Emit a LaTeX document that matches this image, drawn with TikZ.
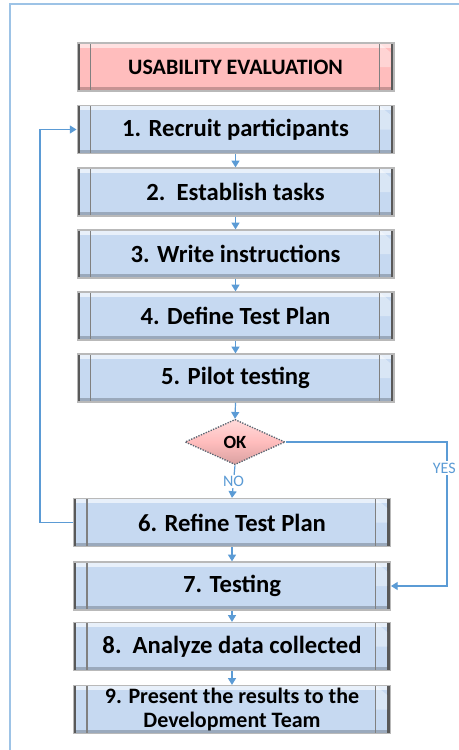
\documentclass[tikz,border=0pt]{standalone}
\usepackage{xcolor}
\usepackage{fontspec}
\setmainfont{Carlito}
\usetikzlibrary{arrows.meta, positioning, shapes.geometric}
\definecolor{flowblue}{HTML}{5B9BD5}
\definecolor{framblue}{HTML}{9DC3E6}
\definecolor{stepfill}{HTML}{C6D9F1}
\definecolor{steplight}{HTML}{E4EEFA}
\definecolor{titlefill}{HTML}{FFBDBD}
\definecolor{titlelight}{HTML}{FFDADA}
\definecolor{edgegray}{HTML}{595959}

\begin{document}
\begin{tikzpicture}[
  x=0.75pt, y=-0.75pt,
  bevel/.style 2 args={draw=gray!55, line width=1pt, minimum width=237.5pt,
    minimum height=36pt, inner sep=0pt, align=center, font=\bfseries,
    fill=#1, path picture={
      \fill[#2!70, opacity=0.9] (path picture bounding box.north west)
        rectangle ([yshift=-3.5pt]path picture bounding box.north east);
      \fill[black, opacity=0.22] (path picture bounding box.south west)
        rectangle ([yshift=3pt]path picture bounding box.south east);
      \fill[edgegray] (path picture bounding box.south west)
        rectangle ([xshift=2pt]path picture bounding box.north west);
      \fill[edgegray] (path picture bounding box.south east)
        rectangle ([xshift=-2.5pt]path picture bounding box.north east);
      \fill[white, opacity=0.35] ([xshift=-11pt]path picture bounding box.north east)
        -- ([xshift=-2.5pt,yshift=-7pt]path picture bounding box.north east)
        -- ([xshift=-2.5pt]path picture bounding box.east)
        -- ([xshift=-11pt]path picture bounding box.east) -- cycle;
      \draw[gray, line width=0.8pt] ([xshift=10pt]path picture bounding box.north west)
        -- ([xshift=10pt]path picture bounding box.south west);
      \draw[gray, line width=0.8pt] ([xshift=-11pt]path picture bounding box.north east)
        -- ([xshift=-11pt]path picture bounding box.south east);
    }},
  stepbox/.style={bevel={stepfill}{steplight}, font=\fontsize{18.5}{19}\selectfont\bfseries},
  titlebox/.style={bevel={titlefill}{titlelight}, font=\fontsize{16.5}{17}\selectfont\bfseries},
  decision/.style={diamond, draw=edgegray!80!flowblue, line width=1pt, densely dotted,
    top color=titlelight, bottom color=titlefill!85!black, middle color=titlefill,
    minimum width=75pt, minimum height=34pt, inner sep=0pt, aspect=2.2,
    font=\fontsize{14}{16}\selectfont\bfseries},
  arrow/.style={-{Triangle[length=5pt, width=6pt]}, draw=flowblue, line width=0.9pt},
  flowlabel/.style={font=\fontsize{12}{14}\selectfont, text=flowblue, fill=white,
    inner sep=1pt}
]
\useasboundingbox (0,0) rectangle (459,750);
% outer frame
\draw[framblue, line width=1.2pt] (10,750) -- (10,4) -- (470,4);

\node[titlebox] (title) at (235.5,67) {USABILITY EVALUATION};
\node[stepbox] (s1) at (235.5,129.5) {1. Recruit participants};
\node[stepbox] (s2) at (235.5,192) {2.\ \ Establish tasks};
\node[stepbox] (s3) at (235.5,254) {3. Write instructions};
\node[stepbox] (s4) at (235.5,316) {4. Define Test Plan};
\node[stepbox] (s5) at (235.5,378) {5. Pilot testing};
\node[decision] (ok) at (235,442) {OK};
\node[stepbox] (s6) at (232,522.5) {6. Refine Test Plan};
\node[stepbox] (s7) at (232,586) {7. Testing};
\node[stepbox] (s8) at (232,646.5) {8.\ \ Analyze data collected};
\node[stepbox, font=\fontsize{16.5}{17.5}\selectfont\bfseries] (s9) at (232,709.5)
  {9. Present the results to the\\Development Team};

\draw[arrow] (s1) -- (s2);
\draw[arrow] (s2) -- (s3);
\draw[arrow] (s3) -- (s4);
\draw[arrow] (s4) -- (s5);
\draw[arrow] (s5.south) -- (ok.north);
\draw[arrow] (ok.south) -- node[flowlabel, pos=0.5] {NO} (s6.north);
\draw[arrow] (s6) -- (s7);
\draw[arrow] (s7) -- (s8);
\draw[arrow] (s8) -- (s9);
\draw[arrow] (s6.west) -- ++(-33,0) |- (s1.west);
\coordinate (yes) at (447,442);
\draw[arrow] (ok.east) -- (yes) |- node[flowlabel, pos=0.09, xshift=-2pt] {YES} (s7.east);
\end{tikzpicture}
\end{document}
